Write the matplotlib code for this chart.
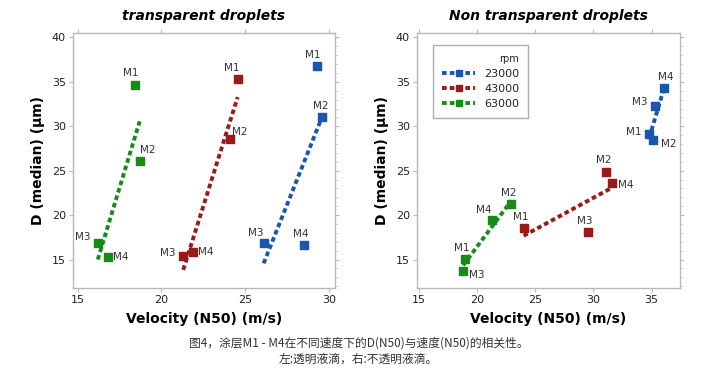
import numpy as np
import matplotlib
matplotlib.use("Agg")
import matplotlib.pyplot as plt
from matplotlib.ticker import MultipleLocator

plt.rcParams['font.family'] = ['DejaVu Sans']

coatings = ["M1", "M2", "M3", "M4"]
rpm_labels = ["23000", "43000", "63000"]
colors = {"23000": "#1a56b0", "43000": "#9a1a1a", "63000": "#178a17"}

# Left: transparent droplets (velocity, D median) per coating M1..M4
left_v = {"23000": [29.3, 29.6, 26.1, 28.5],
          "43000": [24.55, 24.1, 21.3, 21.9],
          "63000": [18.4, 18.7, 16.2, 16.8]}
left_d = {"23000": [36.8, 31.0, 16.9, 16.6],
          "43000": [35.3, 28.6, 15.45, 15.8],
          "63000": [34.7, 26.1, 16.9, 15.3]}

# Right: non transparent droplets
right_v = {"23000": [34.8, 35.15, 35.3, 36.1],
           "43000": [24.0, 31.1, 29.5, 31.6],
           "63000": [19.0, 22.95, 18.8, 21.3]}
right_d = {"23000": [29.1, 28.5, 32.3, 34.3],
           "43000": [18.5, 24.9, 18.1, 23.6],
           "63000": [15.1, 21.2, 13.7, 19.45]}

# label offsets (points) per panel/series/coating
left_off = {"23000": [(-3, 8), (-1, 8), (-6, 7), (-2, 8)],
            "43000": [(-4, 8), (7, 5), (-11, 2), (9, 0)],
            "63000": [(-3, 8), (6, 8), (-11, 4), (9, 0)]}
right_off = {"23000": [(-11, 2), (11, -3), (-11, 3), (1, 8)],
             "43000": [(-2, 8), (-2, 8), (-2, 8), (10, -1)],
             "63000": [(-3, 8), (-2, 8), (10, -3), (-6, 7)]}

fig = plt.figure(figsize=(7.17, 3.79), dpi=100)
axL = fig.add_axes([73/717, 1-288/379, (335-73)/717, (288-33)/379])
axR = fig.add_axes([417/717, 1-288/379, (680-417)/717, (288-33)/379])

def style(ax, xlim, xticks):
    ax.set_xlim(*xlim)
    ax.set_ylim(11.8, 40.5)
    ax.set_xticks(xticks)
    ax.set_yticks([15, 20, 25, 30, 35, 40])
    ax.yaxis.set_minor_locator(MultipleLocator(1))
    for s in ax.spines.values():
        s.set_color("#b8b8b8")
        s.set_linewidth(1.0)
    ax.tick_params(axis="both", which="major", direction="out", length=3,
                   color="#b8b8b8", labelsize=8, labelcolor="#222222", pad=2,
                   top=True, right=True)
    ax.tick_params(axis="y", which="minor", direction="out", length=2,
                   color="#d0d0d0", left=False, right=True)
    ax.set_xlabel("Velocity (N50) (m/s)", fontsize=10, fontweight="bold", labelpad=5)
    ax.set_ylabel("D (median) (µm)", fontsize=10, fontweight="bold", labelpad=5)

def draw(ax, vdict, ddict, offs, legend=False):
    handles = []
    for r in rpm_labels:
        v = np.array(vdict[r]); d = np.array(ddict[r])
        c = colors[r]
        k, b = np.polyfit(v, d, 1)
        xs = np.array([v.min(), v.max()])
        ax.plot(xs, k*xs + b, linestyle=(0, (1.2, 0.8)), color=c, lw=2.8)
        ax.scatter(v, d, marker="s", s=32, color=c, zorder=3)
        for i, m in enumerate(coatings):
            ax.annotate(m, (v[i], d[i]), xytext=offs[r][i], textcoords="offset points",
                        ha="center", va="center", fontsize=7.5, color="#333333")
        h, = ax.plot([], [], linestyle=(0, (1.2, 0.8)), color=c, lw=2.8,
                     marker="s", markersize=5)
        handles.append(h)
    if legend:
        leg = ax.legend(handles, rpm_labels, title="rpm", loc="upper left",
                        bbox_to_anchor=(0.04, 0.975), fontsize=8, title_fontsize=7,
                        frameon=True, fancybox=False, edgecolor="#999999",
                        handlelength=3.0, borderpad=0.8, labelspacing=0.45,
                        alignment="right", markerfirst=True)
        for t in leg.get_texts():
            t.set_color("#222222")
        leg.get_title().set_color("#222222")

style(axL, (14.72, 30.36), [15, 20, 25, 30])
style(axR, (14.83, 37.45), [15, 20, 25, 30, 35])
draw(axL, left_v, left_d, left_off)
draw(axR, right_v, right_d, right_off, legend=True)

axL.set_title("transparent droplets", fontsize=10, fontweight="bold", style="italic", pad=9)
axR.set_title("Non transparent droplets", fontsize=10, fontweight="bold", style="italic", pad=9)

cap_font = ["Noto Sans CJK SC", "DejaVu Sans"]
fig.text(0.5, 1-343/379, "图4，涂层M1 - M4在不同速度下的D(N50)与速度(N50)的相关性。",
         ha="center", va="center", fontsize=8.5, color="#333333", family=cap_font)
fig.text(0.5, 1-359/379, "左:透明液滴，右:不透明液滴。",
         ha="center", va="center", fontsize=8.5, color="#333333", family=cap_font)

fig.savefig("out.png", dpi=100)
